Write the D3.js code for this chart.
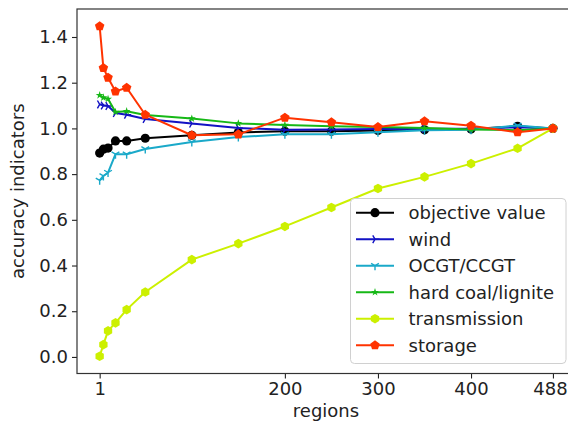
<!DOCTYPE html>
<html>
<head>
<meta charset="utf-8">
<script src="https://cdn.jsdelivr.net/npm/d3@7/dist/d3.min.js"></script>
<style>
  html, body { margin: 0; padding: 0; background: #fff; }
  svg { display: block; font-family: "DejaVu Sans", sans-serif; }
</style>
</head>
<body>
<svg id="chart" width="568" height="423"></svg>
<script>
const regions = [1, 5, 10, 18, 30, 50, 100, 150, 200, 250, 300, 350, 400, 450, 488];
const objectiveValue = [0.892, 0.909, 0.914, 0.945, 0.945, 0.957, 0.970, 0.982, 0.988, 0.988, 0.991, 0.994, 0.997, 1.009, 1.0];
const wind = [1.105, 1.100, 1.098, 1.067, 1.060, 1.041, 1.021, 1.002, 0.994, 0.995, 0.997, 0.998, 0.999, 1.005, 1.0];
const ocgtCcgt = [0.773, 0.792, 0.807, 0.887, 0.887, 0.910, 0.941, 0.962, 0.974, 0.974, 0.983, 0.992, 0.994, 1.013, 1.0];
const hardCoalLignite = [1.145, 1.135, 1.129, 1.072, 1.075, 1.059, 1.043, 1.022, 1.015, 1.009, 1.006, 1.002, 0.995, 0.992, 1.0];
const transmission = [0.003, 0.054, 0.114, 0.149, 0.207, 0.284, 0.426, 0.496, 0.571, 0.654, 0.737, 0.788, 0.846, 0.913, 1.0];
const storage = [1.447, 1.264, 1.222, 1.162, 1.178, 1.060, 0.970, 0.974, 1.047, 1.027, 1.006, 1.031, 1.012, 0.983, 1.0];

const xTicks = [1, 200, 300, 400, 488];
const yTicks = [0.0, 0.2, 0.4, 0.6, 0.8, 1.0, 1.2, 1.4];

const series = [
  { name: "objective value", values: objectiveValue, color: "#000000", marker: "circle" },
  { name: "wind", values: wind, color: "#1212c4", marker: "triRight" },
  { name: "OCGT/CCGT", values: ocgtCcgt, color: "#1aa9c9", marker: "triDown" },
  { name: "hard coal/lignite", values: hardCoalLignite, color: "#16b816", marker: "star" },
  { name: "transmission", values: transmission, color: "#ccf000", marker: "hexagon" },
  { name: "storage", values: storage, color: "#ff3300", marker: "pentagon" }
];

const svg = d3.select("#chart");
const plot = { left: 77, top: 9, right: 575.6, bottom: 373.5 };

const x = d3.scaleLinear().domain([-23.35, 512.35]).range([plot.left, plot.right]);
const y = d3.scaleLinear().domain([-0.0725, 1.5225]).range([plot.bottom, plot.top]);

function polygonPath(n, r, rot) {
  const pts = [];
  for (let i = 0; i < n; i++) {
    const a = rot + i * 2 * Math.PI / n;
    pts.push([r * Math.cos(a), r * Math.sin(a)]);
  }
  return "M" + pts.map(p => p[0].toFixed(2) + "," + p[1].toFixed(2)).join("L") + "Z";
}
function starPath(r) {
  const pts = [];
  for (let i = 0; i < 10; i++) {
    const a = -Math.PI / 2 + i * Math.PI / 5;
    const rr = i % 2 === 0 ? r : r * 0.38;
    pts.push([rr * Math.cos(a), rr * Math.sin(a)]);
  }
  return "M" + pts.map(p => p[0].toFixed(2) + "," + p[1].toFixed(2)).join("L") + "Z";
}
function triPath(r, angles) {
  return angles.map(a => {
    const rad = a * Math.PI / 180;
    return "M0,0L" + (r * Math.cos(rad)).toFixed(2) + "," + (r * Math.sin(rad)).toFixed(2);
  }).join("");
}

function drawMarker(g, type, color, cx, cy) {
  if (type === "circle") {
    g.append("circle").attr("cx", cx).attr("cy", cy).attr("r", 4.6).attr("fill", color);
  } else if (type === "triRight") {
    g.append("path").attr("transform", `translate(${cx},${cy})`)
      .attr("d", triPath(4.5, [0, 120, 240])).attr("stroke", color).attr("stroke-width", 1.4).attr("fill", "none");
  } else if (type === "triDown") {
    g.append("path").attr("transform", `translate(${cx},${cy})`)
      .attr("d", triPath(4.5, [90, 210, 330])).attr("stroke", color).attr("stroke-width", 1.4).attr("fill", "none");
  } else if (type === "star") {
    g.append("path").attr("transform", `translate(${cx},${cy})`)
      .attr("d", starPath(4.2)).attr("fill", color);
  } else if (type === "hexagon") {
    g.append("path").attr("transform", `translate(${cx},${cy})`)
      .attr("d", polygonPath(6, 4.8, -Math.PI / 2)).attr("fill", color);
  } else if (type === "pentagon") {
    g.append("path").attr("transform", `translate(${cx},${cy})`)
      .attr("d", polygonPath(5, 5.0, -Math.PI / 2)).attr("fill", color);
  }
}

const line = d3.line().x(d => x(d[0])).y(d => y(d[1]));

const marks = svg.append("g");
series.forEach(s => {
  const data = regions.map((r, i) => [r, s.values[i]]);
  const g = marks.append("g");
  g.append("path").datum(data).attr("d", line)
    .attr("fill", "none").attr("stroke", s.color).attr("stroke-width", 2).attr("stroke-linejoin", "round");
  data.forEach(d => drawMarker(g, s.marker, s.color, x(d[0]), y(d[1])));
});

// axes
const xAxis = d3.axisBottom(x).tickValues(xTicks).tickFormat(d3.format("d")).tickSizeOuter(0).tickSize(5).tickPadding(4);
const yAxis = d3.axisLeft(y).tickValues(yTicks).tickFormat(d3.format(".1f")).tickSizeOuter(0).tickSize(5).tickPadding(4);

const gx = svg.append("g").attr("transform", `translate(0,${plot.bottom})`).call(xAxis);
const gy = svg.append("g").attr("transform", `translate(${plot.left},0)`).call(yAxis);
[gx, gy].forEach(g => {
  g.select(".domain").remove();
  g.selectAll(".tick line").attr("stroke", "#222").attr("stroke-width", 1.1);
  g.selectAll(".tick text").attr("fill", "#222").style("font-size", "18px").style("font-family", "DejaVu Sans");
});
gx.selectAll(".tick text").filter(d => d === 488).attr("dx", -3);

// spines
svg.append("rect").attr("x", plot.left).attr("y", plot.top)
  .attr("width", plot.right - plot.left).attr("height", plot.bottom - plot.top)
  .attr("fill", "none").attr("stroke", "#333").attr("stroke-width", 1.2);

// axis labels
svg.append("text").attr("x", 326).attr("y", 417)
  .attr("text-anchor", "middle").style("font-size", "18px").attr("fill", "#222").text("regions");
svg.append("text").attr("transform", `translate(24,${(plot.top + plot.bottom) / 2}) rotate(-90)`)
  .attr("text-anchor", "middle").style("font-size", "18px").attr("fill", "#222").text("accuracy indicators");

// legend
const lg = svg.append("g");
lg.append("rect").attr("x", 350.5).attr("y", 198.5).attr("width", 215.5).attr("height", 165)
  .attr("rx", 4).attr("fill", "#fff").attr("fill-opacity", 0.85).attr("stroke", "#d0d0d0").attr("stroke-width", 1);
series.forEach((s, i) => {
  const cy = 212.7 + i * 26.5;
  lg.append("line").attr("x1", 356).attr("x2", 394).attr("y1", cy).attr("y2", cy)
    .attr("stroke", s.color).attr("stroke-width", 2);
  drawMarker(lg, s.marker, s.color, 375, cy);
  lg.append("text").attr("x", 408.5).attr("y", cy).attr("dy", "0.35em")
    .style("font-size", "18px").attr("fill", "#222").text(s.name);
});
</script>
</body>
</html>
